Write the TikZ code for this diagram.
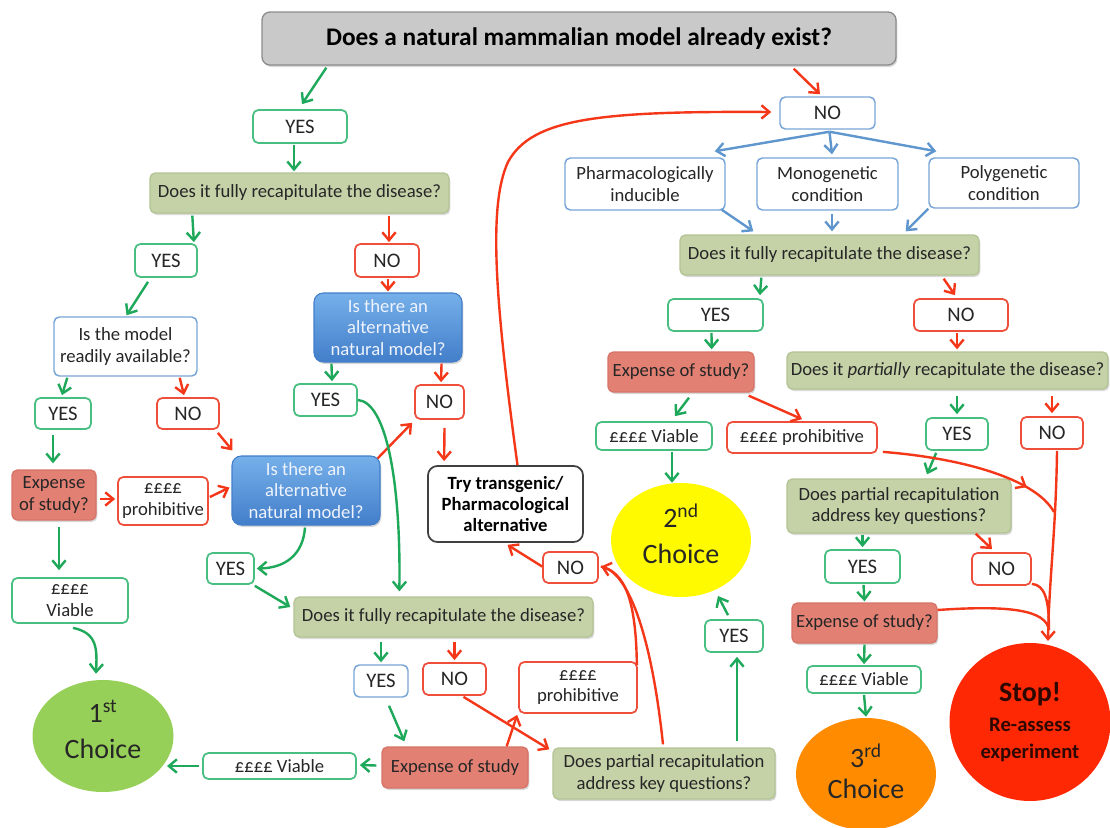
\documentclass[tikz,border=0pt]{standalone}
\usepackage{fontspec}
\setmainfont{Carlito}
\usetikzlibrary{arrows.meta,calc,shapes.geometric,decorations.markings,shadows}

\definecolor{gline}{RGB}{30,168,90}
\definecolor{gbord}{RGB}{72,190,128}
\definecolor{rline}{RGB}{245,55,25}
\definecolor{rbord}{RGB}{238,78,58}
\definecolor{bline}{RGB}{95,150,205}
\definecolor{bbord}{RGB}{120,165,215}
\definecolor{qfill}{RGB}{197,210,168}
\definecolor{qbord}{RGB}{180,196,148}
\definecolor{efill}{RGB}{226,128,115}
\definecolor{ebord}{RGB}{214,116,104}
\definecolor{tfill}{RGB}{201,201,201}
\definecolor{tbord}{RGB}{140,140,140}
\definecolor{atop}{RGB}{118,176,234}
\definecolor{abot}{RGB}{66,126,202}
\definecolor{atext}{RGB}{238,243,252}
\definecolor{cone}{RGB}{150,208,88}
\definecolor{ctwo}{RGB}{255,250,0}
\definecolor{cthree}{RGB}{255,140,0}
\definecolor{cstop}{RGB}{255,40,5}
\definecolor{stoptext}{RGB}{45,8,0}

\newcommand\mybox[7]{%
  \pgfmathsetmacro\bxcx{(#3+#5)/2}%
  \pgfmathsetmacro\bxcy{(#4+#6)/2}%
  \pgfmathsetmacro\bxw{(#5-#3)*0.75}%
  \pgfmathsetmacro\bxh{(#6-#4)*0.75}%
  \node[#2, minimum width=\bxw pt, minimum height=\bxh pt] (#1) at (\bxcx,\bxcy) {#7};}

\tikzset{
 mybase/.style={rounded corners=4pt, inner sep=0pt, align=center, text=black!85, font=\fontsize{14}{16}\selectfont},
 shad/.style={drop shadow={shadow xshift=1pt, shadow yshift=-1.5pt, opacity=0.25, fill=black!60}},
 yn/.style={mybase, fill=white, line width=1.3pt, font=\fontsize{15.5}{18}\selectfont},
 gbox/.style={yn, draw=gbord},
 rbox/.style={yn, draw=rbord},
 bbox/.style={yn, draw=bbord, line width=1.1pt},
 gsm/.style={gbox, font=\fontsize{14}{16}\selectfont},
 rsm/.style={rbox, font=\fontsize{14}{16}\selectfont},
 wbox/.style={mybase, fill=white, draw=bbord, line width=1.1pt},
 qbox/.style={mybase, shad, fill=qfill, draw=qbord, line width=1pt},
 ebox/.style={mybase, shad, fill=efill, draw=ebord, line width=1pt},
 abox/.style={mybase, shad, rounded corners=7pt, top color=atop, bottom color=abot, draw=abot, line width=0.8pt, text=atext},
 tbox/.style={mybase, shad, fill=tfill, draw=tbord, line width=1pt, rounded corners=6pt, font=\bfseries\fontsize{19}{22}\selectfont, text=black},
 trybox/.style={mybase, fill=white, draw=black!75, line width=1.3pt, rounded corners=7pt, font=\bfseries\fontsize{14}{16}\selectfont, text=black},
 choice/.style={ellipse, inner sep=0pt, align=center, font=\fontsize{21}{27}\selectfont, text=black!85},
 arr/.style={-{Straight Barb[length=6pt,width=10pt]}},
 ga/.style={arr, color=gline, line width=1.8pt},
 ra/.style={arr, color=rline, line width=1.8pt},
 ba/.style={arr, color=bline, line width=1.8pt},
 rl/.style={color=rline, line width=1.8pt},
}

\begin{document}
\begin{tikzpicture}[x=0.75pt,y=-0.75pt]
\fill[white] (0,0) rectangle (1110,828);
\useasboundingbox (0,0) rectangle (1110,828);

% ---------- left part ----------
\mybox{title}{tbox}{262}{12}{896}{65}{Does a natural mammalian model already exist?}
\mybox{yes1}{gbox}{253}{110}{347}{143}{YES}
\mybox{q1}{qbox}{150}{173}{449}{213}{Does it fully recapitulate the disease?}
\mybox{yes2}{gbox}{135}{244}{197}{277}{YES}
\mybox{no2}{rbox}{355}{244}{419}{277}{NO}
\mybox{ready}{wbox}{54}{317}{197}{376}{Is the model\\readily available?}
\mybox{yes3}{gbox}{35}{398}{91}{429}{YES}
\mybox{no3}{rbox}{157}{398}{219}{429}{NO}
\mybox{exp1}{ebox}{12}{470}{96}{520}{Expense\\of study?}
\mybox{pro1}{rsm}{118}{477}{208}{525}{££££\\prohibitive}
\mybox{alt1}{abox}{232}{456}{380}{525}{Is there an\\alternative\\natural model?}
\mybox{alt2}{abox}{314}{293}{462}{362}{Is there an\\alternative\\natural model?}
\mybox{yes4}{gbox}{294}{384}{357}{416}{YES}
\mybox{no4}{rbox}{415}{385}{464}{419}{NO}
\mybox{try}{trybox}{428}{466}{583}{542}{Try transgenic/\\Pharmacological\\alternative}
\mybox{yes5}{gbox}{207}{553}{254}{584}{YES}
\mybox{via1}{gsm}{12}{578}{128}{623}{££££\\Viable}
\mybox{q2}{qbox}{294}{597}{593}{637}{Does it fully recapitulate the disease?}
\mybox{yes6}{bbox}{354}{665}{408}{697}{YES}
\mybox{no6}{rbox}{423}{663}{486}{695}{NO}
\mybox{pro2}{rsm}{519}{662}{637}{713}{££££\\prohibitive}
\mybox{exp3}{ebox}{382}{747}{528}{788}{Expense of study}
\mybox{via3}{gsm}{203}{753}{356}{779}{££££ Viable}
\mybox{part2}{qbox}{553}{748}{775}{799}{Does partial recapitulation\\address key questions?}
\mybox{no7}{rbox}{543}{552}{598}{583}{NO}
\mybox{yes7}{gbox}{705}{620}{763}{652}{YES}

% ---------- right part ----------
\mybox{no1}{bbox}{780}{97}{875}{129}{NO}
\mybox{pharm}{wbox}{565}{158}{725}{210}{Pharmacologically\\inducible}
\mybox{mono}{wbox}{757}{158}{898}{210}{Monogenetic\\condition}
\mybox{poly}{wbox}{929}{158}{1079}{208}{Polygenetic\\condition}
\mybox{q3}{qbox}{680}{235}{979}{275}{Does it fully recapitulate the disease?}
\mybox{yes8}{gbox}{668}{299}{763}{331}{YES}
\mybox{no8}{rbox}{914}{299}{1008}{331}{NO}
\mybox{exp2}{ebox}{608}{352}{754}{392}{Expense of study?}
\mybox{q4}{qbox}{787}{352}{1108}{389}{Does it \textit{partially} recapitulate the disease?}
\mybox{via2}{gsm}{596}{422}{712}{450}{££££ Viable}
\mybox{pro3}{rsm}{727}{422}{877}{453}{££££ prohibitive}
\mybox{yes9}{gbox}{926}{418}{988}{450}{YES}
\mybox{no9}{rbox}{1021}{417}{1083}{449}{NO}
\mybox{part1}{qbox}{787}{479}{1011}{533}{Does partial recapitulation\\address key questions?}
\mybox{yes10}{gbox}{825}{550}{900}{583}{YES}
\mybox{no10}{rbox}{972}{553}{1031}{585}{NO}
\mybox{exp4}{ebox}{792}{603}{937}{643}{Expense of study?}
\mybox{via4}{gsm}{807}{666}{921}{693}{££££ Viable}

% ---------- ellipses ----------
\node[choice, fill=cone, minimum width=141*0.75pt, minimum height=112*0.75pt, text depth=10pt] (ch1) at (103,736) {1\textsuperscript{st}\\Choice};
\node[choice, fill=ctwo, minimum width=140*0.75pt, minimum height=114*0.75pt, text depth=10pt] (ch2) at (681,540) {2\textsuperscript{nd}\\Choice};
\node[choice, fill=cthree, minimum width=140*0.75pt, minimum height=112*0.75pt, font=\fontsize{21}{23}\selectfont, text depth=4pt] (ch3) at (866,774) {3\textsuperscript{rd}\\Choice};
\node[choice, fill=cstop, minimum width=161*0.75pt, minimum height=158*0.75pt, text=stoptext, font=\bfseries\fontsize{15.5}{20}\selectfont] (stop) at (1030,722) {{\fontsize{21}{25}\selectfont Stop!}\\[3pt]Re-assess\\experiment};

% ---------- connectors, left ----------
\draw[ga] ($(title.south west)+(65,2)$) -- ($(yes1.north)+(2,-5)$);
\draw[ga] ($(yes1.south)+(-6,1)$) -- ($(q1.north)+(-5.5,-1)$);
\draw[ga] ($(q1.south west)+(43,2)$) -- ($(yes2.north east)+(-4,-1)$);
\draw[ra] ($(q1.south)+(89.5,2)$) -- ($(no2.north)+(2,-1)$);
\draw[ra] ($(no2.south)+(1,1)$) -- ($(alt2.north)+(0,-1)$);
\draw[ga] ($(yes2.south)+(-18,4)$) -- ($(ready.north)+(1,-1)$);
\draw[ga] ($(ready.south west)+(14,1)$) -- ($(yes3.north)+(-1,-2)$);
\draw[ra] ($(ready.south east)+(-18,1)$) -- ($(no3.north)+(-4,-2)$);
\draw[ga] ($(yes3.south)+(-10,5)$) -- ($(exp1.north)+(-1,-6)$);
\draw[ga] ($(exp1.south)+(5,6)$) -- ($(via1.north)+(-11,-7)$);
\draw[ra] ($(exp1.east)+(3,4)$) -- ($(pro1.west)+(-2,-2)$);
\draw[ra] ($(pro1.east)+(1,-4)$) -- ($(alt1.west)+(-2,-3)$);
\draw[ra] ($(no3.south east)+(-2,3)$) -- ($(alt1.north west)+(1,-5)$);
\draw[ra] ($(alt1.north east)+(-3,3)$) -- ($(no4.south west)+(-2,3)$);
\draw[ga] ($(alt2.south west)+(18,1)$) -- ($(yes4.north)+(6.5,-2)$);
\draw[ra] ($(alt2.south east)+(-21,1)$) -- ($(no4.north)+(1.5,-2)$);
\draw[ra] ($(no4.south)+(5,8)$) -- ($(try.north west)+(17,-4)$);
\draw[ga] (yes4.east) .. controls ($(yes4.east)+(28,2)$) and (401,480) .. ($(q2.north west)+(106,-5)$);
\draw[ga] ($(alt1.south)+(-1,2)$) .. controls (303,555) and (285,568) .. ($(yes5.east)+(2,0)$);
\draw[ga] ($(yes5.south east)+(0,1)$) -- ($(q2.west)+(-3,-10)$);
\draw[ga] ($(via1.south)+(3,4)$) .. controls (98,633) and (97,650) .. ($(ch1.north)+(-7,-6)$);
\draw[ga] ($(q2.south -| yes6.north)+(0,4)$) -- ($(yes6.north)+(0,-2)$);
\draw[ra] ($(q2.south -| no6.north)+(0,4)$) -- ($(no6.north)+(0,-2)$);
\draw[ga] ($(yes6.south)+(8,8)$) -- ($(exp3.north west)+(23,-5)$);
\draw[ga] ($(exp3.west)+(-5,-2)$) -- ($(via3.east)+(3,-1)$);
\draw[ga] ($(via3.west)+(-3,0)$) -- ($(ch1.center)+(64,30)$);
\draw[ra] ($(exp3.north east)+(-22,0)$) -- ($(pro2.south west)+(-1,1)$);
\draw[ra] ($(no6.south)+(9,1)$) -- ($(part2.north west)+(-3,2)$);
\draw[ra] ($(part2.north)+(-1,-3)$) .. controls (652,640) and (630,575) .. ($(no7.east)+(2,-1)$);
\draw[rl] ($(pro2.north east)+(-1,4)$) .. controls (636,600) and (625,572) .. ($(no7.east)+(2,-1)$);
\draw[ra] ($(no7.west)+(0,-1)$) -- ($(try.south)+(2,2)$);
\draw[ga] ($(part2.north)+(73,-6)$) -- ($(yes7.south)+(3,4)$);
\draw[ga] ($(yes7.north)+(-6,-4)$) -- ($(ch2.center)+(37,56)$);

% ---------- connectors, right ----------
\draw[ra] ($(title.south east)+(-103,3)$) -- ($(no1.north)+(-7.5,-2)$);
\draw[ba] ($(no1.south)+(2,2)$) -- ($(pharm.north east)+(-11,-6)$);
\draw[ba] ($(no1.south)+(2,2)$) -- ($(mono.north)+(4.5,-3)$);
\draw[ba] ($(no1.south)+(2,2)$) -- ($(poly.north west)+(8,-6)$);
\draw[ba] ($(pharm.south east)+(-4,-1)$) -- ($(q3.north west)+(74,-3)$);
\draw[ba] ($(mono.south)+(4.5,3)$) -- ($(q3.north)+(2.5,-3)$);
\draw[ba] (poly.south west) -- ($(q3.north east)+(-74,-3)$);
\draw[ra] ($(try.north)+(12,0)$) .. controls (495,300) and (488,205) .. (508,162) .. controls (532,118) and (600,111) .. ($(no1.west)+(-8,-1)$);
\draw[ga] ($(q3.south west)+(82,2)$) -- ($(yes8.north east)+(-4,-3)$);
\draw[ra] ($(q3.south east)+(-36,3)$) -- ($(no8.north)+(-6,-3)$);
\draw[ga] ($(yes8.south)+(-4,1)$) -- ($(exp2.north east)+(-43,-2)$);
\draw[ra] ($(no8.south)+(-4,1)$) -- ($(q4.north)+(9.5,-2)$);
\draw[ga] ($(exp2.south)+(8,5)$) -- ($(via2.north)+(21,-5)$);
\draw[ra] ($(exp2.south east)+(-6,3)$) -- ($(pro3.north)+(0,-2)$);
\draw[ga] ($(via2.south)+(18,1)$) -- ($(ch2.north)+(-9,0)$);
\draw[ga] ($(yes9.north |- q4.south)+(0,6)$) -- ($(yes9.north)+(0,-3)$);
\draw[ra] ($(no9.north |- q4.south)+(0,6)$) -- ($(no9.north)+(0,-3)$);
\draw[ga] ($(yes9.south west)+(11,2)$) -- ($(part1.north)+(28,-4)$);
\coordinate (m1) at (1054,512);
\coordinate (m2) at (1049,630);
\draw[rl, postaction={decorate}, decoration={markings, mark=at position 0.8 with {\arrow{Straight Barb[length=6pt,width=10pt]}}}] ($(pro3.south east)+(5,-2)$) .. controls (960,458) and (1035,478) .. (m1);
\draw[ra] ($(no9.south)+(5,1)$) .. controls (1056,530) and (1049,580) .. ($(stop.center)+(18,-81)$);
\draw[rl] ($(no10.south east)+(0,-2)$) .. controls (1045,585) and (1049,600) .. (m2);
\draw[rl] ($(exp4.east)+(0,-13)$) .. controls (1010,605) and (1046,610) .. (m2);
\draw[ga] ($(part1.south -| yes10.north)+(0,1)$) -- ($(yes10.north)+(0,-2)$);
\draw[ra] ($(part1.south east)+(-36,0)$) -- ($(no10.north)+(-9.5,-3)$);
\draw[ga] ($(yes10.south)+(1,1)$) -- ($(exp4.north)+(0,-1)$);
\draw[ga] ($(exp4.south)+(0,1)$) -- ($(via4.north)+(0,-1)$);
\draw[ga] ($(via4.south)+(0,1)$) -- ($(ch3.north)+(0,-1)$);
\end{tikzpicture}
\end{document}
